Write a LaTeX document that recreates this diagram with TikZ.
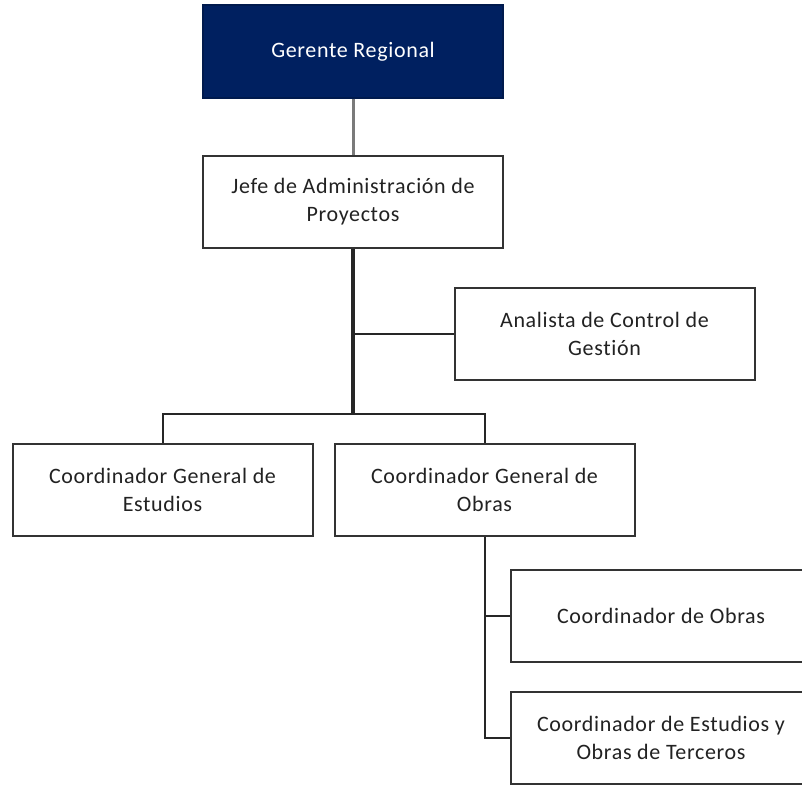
\documentclass[tikz,border=0pt]{standalone}
\usepackage{fontspec}
\setmainfont{Carlito}[LetterSpace=3, Ligatures=NoCommon]
\usepackage{xcolor}
\usetikzlibrary{positioning, calc}
\definecolor{clrHead}{HTML}{002060}
\definecolor{clrBorder}{HTML}{333333}
\definecolor{clrText}{HTML}{222222}
\definecolor{clrTopLink}{HTML}{7A7A7A}

\begin{document}
\begin{tikzpicture}[
    x=1pt, y=-1pt,
    unit/.style={rectangle, draw=clrBorder, fill=white, minimum width=300pt, minimum height=92pt, align=center, text=clrText, font=\fontsize{22}{28}\selectfont, line width=2pt, inner sep=0pt},
    headunit/.style={unit, draw=clrHead!80!black, fill=clrHead, text=white},
    link/.style={line width=2pt, black!85},
    trunk/.style={line width=3.2pt, black!85},
    toplink/.style={line width=3pt, clrTopLink},
]
\useasboundingbox (0,0) rectangle (802,784);
\clip (0,0) rectangle (802,784);

% === Units ===
\node[headunit] (gerente) at (353, 51.5) {Gerente Regional};
\node[unit] (jefe) at (353, 202) {Jefe de Administración de\\Proyectos};
\node[unit] (analista) at (604.5, 333.5) {Analista de Control de\\Gestión};
\node[unit] (estudios) at (162.5, 489.5) {Coordinador General de\\Estudios};
\node[unit] (obras) at (484.5, 489.5) {Coordinador General de\\Obras};
\node[unit] (cobras) at (661, 615.5) {Coordinador de Obras};
\node[unit] (terceros) at (661, 737.5) {Coordinador de Estudios y\\Obras de Terceros};

% === Links ===
\coordinate (bus) at (353, 414);
\draw[toplink] (gerente.south) -- (jefe.north);
\draw[trunk] (jefe.south) -- (bus);
\draw[link] (analista.west) -- (analista.west -| jefe.south);
\draw[link] (estudios.north) |- (bus) -| (obras.north);
\draw[link] (obras.south) |- (cobras.west);
\draw[link] (obras.south) |- (terceros.west);

\end{tikzpicture}
\end{document}
